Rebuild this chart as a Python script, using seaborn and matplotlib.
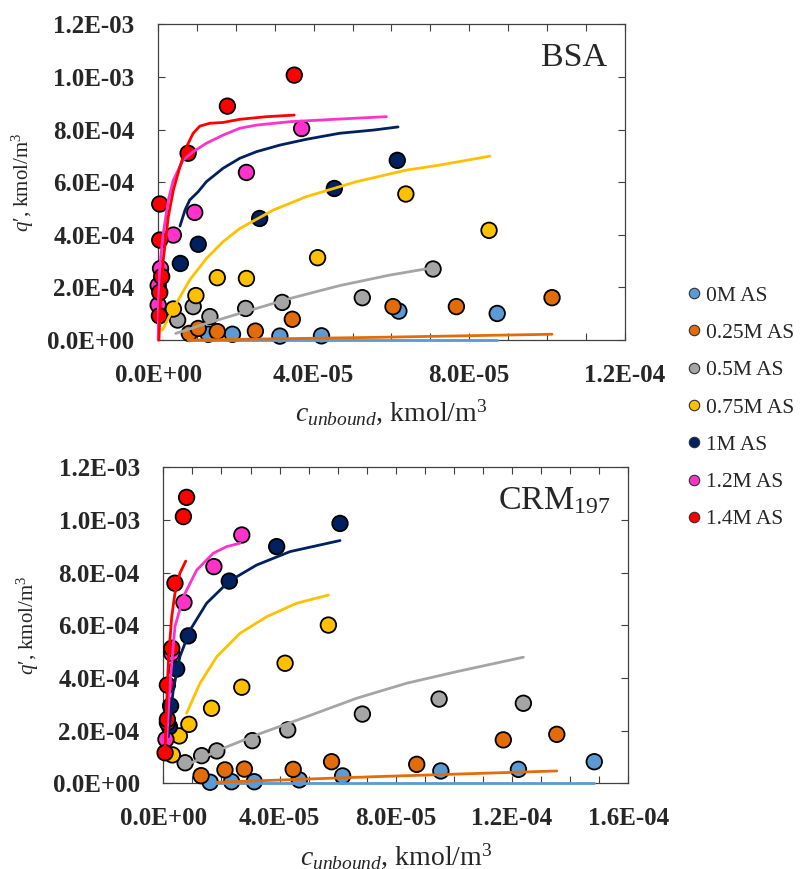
import numpy as np
import pandas as pd
import seaborn as sns
import matplotlib.pyplot as plt
from matplotlib.lines import Line2D
from matplotlib.ticker import FuncFormatter, MultipleLocator

# series labels and colours
series = ['0M AS', '0.25M AS', '0.5M AS', '0.75M AS', '1M AS', '1.2M AS', '1.4M AS']
point_colors = ['#5B9BD5', '#E36C0A', '#A5A5A5', '#FFC000', '#002060', '#FF33CC', '#FF0000']
line_colors = ['#5B9BD5', '#E36C0A', '#A5A5A5', '#FFC000', '#002060', '#FF33CC', '#FF0000']

# ---- BSA: measured points (c_unbound, q') ----
bsa_pts_00 = [(1.29e-5, 2.2e-5), (1.91e-5, 2.2e-5), (3.13e-5, 1.5e-5), (4.20e-5, 1.6e-5),
              (6.19e-5, 1.10e-4), (8.72e-5, 1.01e-4)]
bsa_pts_25 = [(8.0e-6, 2.5e-5), (1.03e-5, 4.4e-5), (1.52e-5, 3.2e-5), (2.50e-5, 3.4e-5),
              (3.45e-5, 7.9e-5), (6.04e-5, 1.27e-4), (7.67e-5, 1.27e-4), (1.013e-4, 1.61e-4)]
bsa_pts_50 = [(5.0e-6, 7.6e-5), (9.0e-6, 1.27e-4), (1.33e-5, 8.9e-5), (2.25e-5, 1.20e-4),
              (3.19e-5, 1.43e-4), (5.25e-5, 1.61e-4), (7.07e-5, 2.70e-4)]
bsa_pts_75 = [(3.9e-6, 1.18e-4), (9.7e-6, 1.69e-4), (1.52e-5, 2.37e-4), (2.27e-5, 2.34e-4),
              (4.10e-5, 3.13e-4), (6.37e-5, 5.55e-4), (8.51e-5, 4.17e-4)]
bsa_pts_10 = [(5.7e-6, 2.91e-4), (1.03e-5, 3.64e-4), (2.61e-5, 4.62e-4), (4.53e-5, 5.76e-4),
              (6.15e-5, 6.83e-4)]
bsa_pts_12 = [(0.0, 1.33e-4), (0.0, 2.07e-4), (0.6e-6, 2.72e-4), (3.9e-6, 3.99e-4),
              (9.4e-6, 4.85e-4), (2.27e-5, 6.37e-4), (3.69e-5, 8.04e-4)]
bsa_pts_14 = [(0.3e-6, 9.2e-5), (0.4e-6, 1.81e-4), (0.9e-6, 2.41e-4), (0.4e-6, 3.80e-4),
              (0.4e-6, 5.17e-4), (7.7e-6, 7.10e-4), (1.78e-5, 8.89e-4), (3.50e-5, 1.007e-3)]

# ---- BSA: model curves ----
bsa_fit_00 = [(7.7e-6, 0.0), (8.72e-5, 0.0)]
bsa_fit_25 = [(7.7e-6, 0.0), (5.53e-5, 1.0e-5), (1.013e-4, 2.2e-5)]
bsa_fit_50 = [(4.5e-6, 2.5e-5), (1.24e-5, 6.3e-5), (2.25e-5, 1.08e-4), (3.39e-5, 1.58e-4),
              (4.67e-5, 2.07e-4), (5.96e-5, 2.47e-4), (7.07e-5, 2.75e-4)]
bsa_fit_75 = [(1.1e-6, 3.8e-5), (3.9e-6, 1.20e-4), (8.1e-6, 2.28e-4), (1.24e-5, 3.10e-4),
              (1.67e-5, 3.74e-4), (2.10e-5, 4.24e-4), (2.96e-5, 4.94e-4), (3.81e-5, 5.45e-4),
              (5.10e-5, 6.02e-4), (6.39e-5, 6.46e-4), (7.24e-5, 6.65e-4), (8.53e-5, 6.99e-4)]
bsa_fit_10 = [(5.6e-6, 4.33e-4), (6.9e-6, 4.94e-4), (8.1e-6, 5.32e-4), (1.03e-5, 5.64e-4),
              (1.24e-5, 6.02e-4), (1.67e-5, 6.53e-4), (2.10e-5, 6.91e-4), (2.53e-5, 7.16e-4),
              (3.13e-5, 7.41e-4), (3.81e-5, 7.63e-4), (4.67e-5, 7.86e-4), (5.53e-5, 7.98e-4),
              (6.17e-5, 8.10e-4)]
bsa_fit_12 = [(0.0, 0.0), (0.1e-6, 1.52e-4), (0.4e-6, 2.79e-4), (1.3e-6, 4.05e-4),
              (2.6e-6, 5.32e-4), (3.9e-6, 6.08e-4), (6.4e-6, 6.84e-4), (9.0e-6, 7.16e-4),
              (1.24e-5, 7.48e-4), (1.67e-5, 7.79e-4), (2.10e-5, 8.05e-4), (2.53e-5, 8.17e-4),
              (3.39e-5, 8.30e-4), (4.67e-5, 8.40e-4), (5.87e-5, 8.49e-4)]
bsa_fit_14 = [(0.2e-6, 0.0), (0.6e-6, 1.52e-4), (1.3e-6, 3.04e-4), (2.6e-6, 4.69e-4),
              (3.9e-6, 5.70e-4), (5.6e-6, 6.59e-4), (7.3e-6, 7.35e-4), (9.0e-6, 7.86e-4),
              (1.07e-5, 8.13e-4), (1.33e-5, 8.24e-4), (1.67e-5, 8.27e-4), (2.10e-5, 8.39e-4),
              (2.79e-5, 8.49e-4), (3.50e-5, 8.55e-4)]

# ---- CRM197: measured points ----
crm_pts_00 = [(1.61e-5, 4e-6), (2.35e-5, 6e-6), (3.13e-5, 6e-6), (4.68e-5, 1.3e-5),
              (6.17e-5, 2.8e-5), (9.55e-5, 4.7e-5), (1.222e-4, 5.3e-5), (1.483e-4, 8.2e-5)]
crm_pts_25 = [(1.30e-5, 2.9e-5), (2.12e-5, 5.1e-5), (2.79e-5, 5.4e-5), (4.47e-5, 5.3e-5),
              (5.79e-5, 8.2e-5), (8.72e-5, 7.2e-5), (1.170e-4, 1.65e-4), (1.354e-4, 1.86e-4)]
crm_pts_50 = [(7.5e-6, 7.8e-5), (1.32e-5, 1.05e-4), (1.84e-5, 1.23e-4), (3.06e-5, 1.62e-4),
              (4.28e-5, 2.03e-4), (6.85e-5, 2.63e-4), (9.49e-5, 3.20e-4), (1.239e-4, 3.04e-4)]
crm_pts_75 = [(3.1e-6, 1.08e-4), (5.5e-6, 1.80e-4), (8.8e-6, 2.24e-4), (1.66e-5, 2.85e-4),
              (2.70e-5, 3.65e-4), (4.19e-5, 4.56e-4), (5.68e-5, 6.01e-4)]
crm_pts_10 = [(2.1e-6, 2.15e-4), (2.5e-6, 2.94e-4), (4.6e-6, 4.34e-4), (8.6e-6, 5.60e-4),
              (2.27e-5, 7.68e-4), (3.90e-5, 8.99e-4), (6.08e-5, 9.87e-4)]
crm_pts_12 = [(0.9e-6, 1.67e-4), (2.9e-6, 4.94e-4), (7.1e-6, 6.87e-4), (1.74e-5, 8.23e-4),
              (2.70e-5, 9.43e-4)]
crm_pts_14 = [(0.6e-6, 1.16e-4), (1.4e-6, 2.30e-4), (1.4e-6, 2.43e-4), (1.4e-6, 3.73e-4),
              (2.9e-6, 5.13e-4), (4.0e-6, 7.60e-4), (6.9e-6, 1.013e-3), (8.0e-6, 1.086e-3)]

# ---- CRM197: model curves ----
crm_fit_00 = [(1.61e-5, 0.0), (1.483e-4, 0.0)]
crm_fit_25 = [(1.84e-5, 4e-6), (7.23e-5, 2.5e-5), (1.354e-4, 4.7e-5)]
crm_fit_50 = [(9.2e-6, 7.6e-5), (2.06e-5, 1.33e-4), (3.21e-5, 1.84e-4), (4.93e-5, 2.53e-4),
              (6.65e-5, 3.23e-4), (8.37e-5, 3.80e-4), (1.009e-4, 4.24e-4), (1.239e-4, 4.79e-4)]
crm_fit_75 = [(8.0e-6, 2.66e-4), (1.26e-5, 3.80e-4), (1.84e-5, 4.81e-4), (2.64e-5, 5.70e-4),
              (3.56e-5, 6.33e-4), (4.59e-5, 6.84e-4), (5.68e-5, 7.15e-4)]
crm_fit_10 = [(1.7e-6, 1.77e-4), (3.4e-6, 3.54e-4), (5.7e-6, 4.81e-4), (9.2e-6, 5.82e-4),
              (1.49e-5, 6.84e-4), (2.27e-5, 7.68e-4), (3.21e-5, 8.29e-4), (4.36e-5, 8.80e-4),
              (6.08e-5, 9.22e-4)]
crm_fit_12 = [(1.15e-6, 1.65e-4), (2.3e-6, 3.80e-4), (4.0e-6, 5.95e-4), (6.9e-6, 7.09e-4),
              (1.15e-5, 8.10e-4), (1.72e-5, 8.74e-4), (2.18e-5, 8.99e-4), (2.64e-5, 9.12e-4)]
crm_fit_14 = [(0.6e-6, 1.27e-4), (1.15e-6, 3.04e-4), (1.8e-6, 4.81e-4), (2.9e-6, 6.33e-4),
              (4.0e-6, 7.22e-4), (5.7e-6, 7.98e-4), (7.7e-6, 8.44e-4)]

bsa_pts = [bsa_pts_00, bsa_pts_25, bsa_pts_50, bsa_pts_75, bsa_pts_10, bsa_pts_12, bsa_pts_14]
bsa_fit = [bsa_fit_00, bsa_fit_25, bsa_fit_50, bsa_fit_75, bsa_fit_10, bsa_fit_12, bsa_fit_14]
crm_pts = [crm_pts_00, crm_pts_25, crm_pts_50, crm_pts_75, crm_pts_10, crm_pts_12, crm_pts_14]
crm_fit = [crm_fit_00, crm_fit_25, crm_fit_50, crm_fit_75, crm_fit_10, crm_fit_12, crm_fit_14]


def to_frame(groups):
    rows = []
    for name, pts in zip(series, groups):
        for i, (c, q) in enumerate(pts):
            rows.append({'c': c, 'q': q, 'series': name, 'order': i})
    return pd.DataFrame(rows)


sns.set_style('ticks')
plt.rcParams['font.family'] = ['Liberation Serif', 'DejaVu Serif']
plt.rcParams['mathtext.fontset'] = 'custom'
plt.rcParams['mathtext.rm'] = 'Liberation Serif'
plt.rcParams['mathtext.it'] = 'Liberation Serif:italic'

fig = plt.figure(figsize=(8.03, 8.69), dpi=100)
ax_top = fig.add_axes([0.197, 0.6087, 0.581, 0.3633])
ax_bot = fig.add_axes([0.2034, 0.0986, 0.579, 0.3636])

pt_pal = dict(zip(series, point_colors))
ln_pal = dict(zip(series, line_colors))
sci = FuncFormatter(lambda v, pos: f'{v:.1E}')


def draw_panel(ax, pts, fits, xmax, title):
    df_pts = to_frame(pts)
    df_fit = to_frame(fits)
    sns.scatterplot(data=df_pts, x='c', y='q', hue='series', hue_order=series,
                    palette=pt_pal, s=125, edgecolor='black', linewidth=1.3,
                    legend=False, ax=ax, zorder=3, clip_on=False)
    for name in series:
        sub = df_fit[df_fit['series'] == name]
        sns.lineplot(data=sub, x='c', y='q', color=ln_pal[name], sort=False,
                     estimator=None, linewidth=2.0, legend=False, ax=ax, zorder=4)
    for ln in ax.get_lines():
        ln.set_clip_on(False)
    ax.set_xlim(0, xmax)
    ax.set_ylim(0, 1.2e-3)
    ax.xaxis.set_major_locator(MultipleLocator(4e-5))
    ax.xaxis.set_minor_locator(MultipleLocator(1e-5))
    ax.yaxis.set_major_locator(MultipleLocator(2e-4))
    ax.xaxis.set_major_formatter(sci)
    ax.yaxis.set_major_formatter(sci)
    ax.tick_params(which='both', direction='in', top=True, right=True,
                   length=5, width=0.8, color='#404040', pad=17)
    for lab in ax.get_xticklabels() + ax.get_yticklabels():
        lab.set_fontweight('bold')
        lab.set_fontsize(18)
    for sp in ax.spines.values():
        sp.set_color('#404040')
        sp.set_linewidth(0.9)
    ax.set_xlabel(r'$c_{unbound}$, kmol/m$^3$', fontsize=20, labelpad=8)
    ax.set_ylabel('$q$\u2032, kmol/m$^3$', fontsize=15, labelpad=8)
    ax.text(0.962, 0.895, title, transform=ax.transAxes, ha='right', va='center',
            fontsize=24.5)


draw_panel(ax_top, bsa_pts, bsa_fit, 1.2e-4, 'BSA')
draw_panel(ax_bot, crm_pts, crm_fit, 1.6e-4, r'CRM$_{197}$')

handles = [Line2D([], [], marker='o', linestyle='none', markersize=7.5,
                  markerfacecolor=c, markeredgecolor='#303030', markeredgewidth=0.8)
           for c in point_colors]
fig.legend(handles, series, loc='center left', bbox_to_anchor=(0.84, 0.531),
           frameon=False, fontsize=15.5, handletextpad=0.05, labelspacing=0.8,
           handlelength=1.0, borderaxespad=0)

fig.savefig('out.png', dpi=100)
